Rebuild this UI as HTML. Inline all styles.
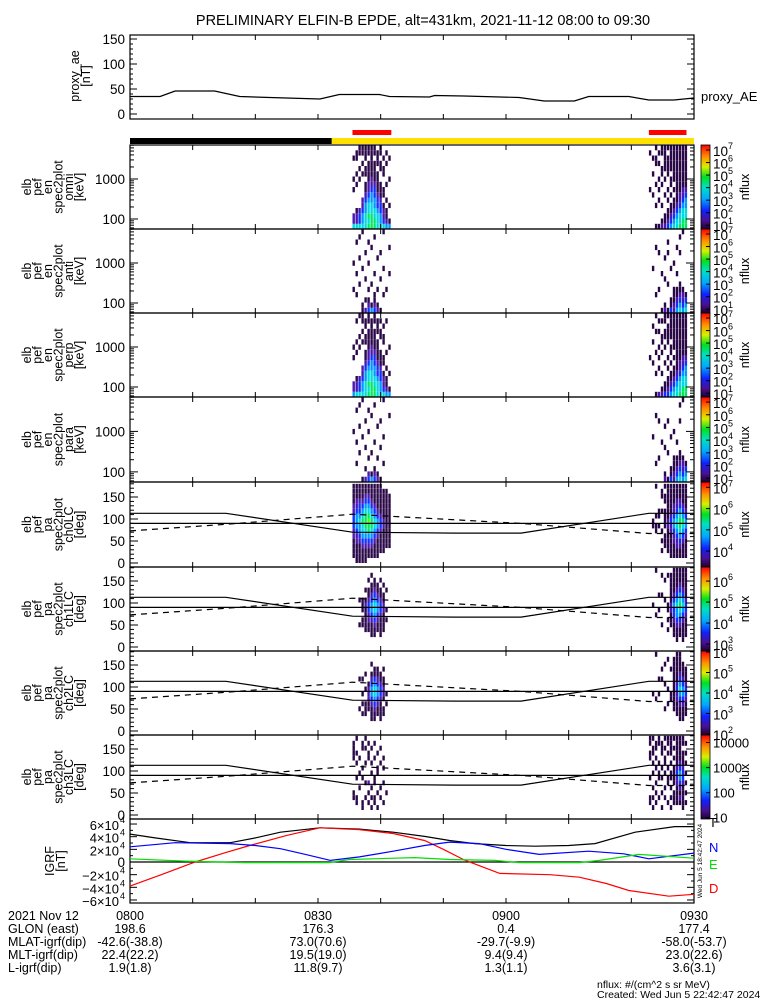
<!DOCTYPE html>
<html><head><meta charset="utf-8"><title>ELFIN-B EPDE</title>
<style>
html,body{margin:0;padding:0;background:#fff;}
svg{display:block;font-family:"Liberation Sans",sans-serif;}
</style></head>
<body>
<svg id="chart" width="775" height="1000" viewBox="0 0 775 1000" xmlns="http://www.w3.org/2000/svg">
<defs>
<linearGradient id="rainbow" x1="0" y1="1" x2="0" y2="0">
<stop offset="0" stop-color="#1a0030"/><stop offset="0.1" stop-color="#4a1090"/>
<stop offset="0.22" stop-color="#1020ff"/><stop offset="0.36" stop-color="#00a8ff"/>
<stop offset="0.5" stop-color="#00e0c0"/><stop offset="0.62" stop-color="#00e020"/>
<stop offset="0.74" stop-color="#d8f000"/><stop offset="0.86" stop-color="#ff9000"/>
<stop offset="1" stop-color="#ff0000"/></linearGradient>
</defs>
<text x="423" y="25" font-size="14.5" text-anchor="middle">PRELIMINARY ELFIN-B EPDE, alt=431km, 2021-11-12 08:00 to 09:30</text>
</svg>
<script>
// ---------- data ----------
const aeTimes = [0,4.8,7.2,13.5,17.5,22.3,30.3,33.4,39.8,41.4,47.8,48.6,53.3,62.1,66.1,70.9,73.2,79.6,82.8,86.8,90];
const aeValues = [35,35,46,46,35,33,30,39,39,35,34,37,36,33,26,26,35,35,28,28,32];
const lcTimes = [0,15.3,35.5,51.8,62.4,82.8,90];
const lcSolid = [113,113,70,68,68,113,113];
const lcDashTimes = [0,15.3,35.5,62.4,82.8,90];
const lcDashed = [73,88,111,90,67,67];
const igrfTimes = [0,4,9.6,16,20,24,30.3,36.6,42,47,51,55,60,64.6,70,74.2,80.6,86.9,90];
const igrfT = [4.4,3.8,3.05,3.05,3.8,4.7,5.4,5.2,4.7,4.05,3.4,2.9,2.6,2.5,2.6,2.9,4.7,5.6,5.6];
const igrfTimesD = [0,5,10.4,15,19.1,25,30.3,36.6,42,47,50,53.4,59,67,71.7,76,79.6,86,90];
const igrfD = [-3.8,-2.0,0,1.4,2.6,4.2,5.4,5.1,4.5,3.4,2.0,0.3,-1.8,-2.0,-2.4,-3.4,-4.5,-5.4,-5.1];
const igrfTimesN = [0,7.2,16,20,24,28,32,36.6,42,47,51,55.7,60,65.3,73.2,78.8,82.8,90];
const igrfN = [2.4,3.05,2.9,2.6,2.1,1.2,0.26,0.8,1.7,2.6,3.15,2.9,2.0,1.2,1.7,1.3,0.5,1.4];
const igrfTimesE = [0,8.8,18.3,31.8,35,45.4,51,58.2,62.1,71.7,74.9,81.2,90];
const igrfE = [0.5,0.15,-0.1,-0.1,0.4,0.7,0.4,0.26,-0.1,-0.1,0.26,1.2,0.6];
const burstStarts = [35.5,82.8];
const omni1 = ["5220000101000100","5221000010100110","5332000001010011","5443220000101011","5554432110110111","6565543221111011","6665544322111111","6655443321111011","5554332111101110","5443321110011011","5322101100110100","4211010010001010","4100100001000100"];
const omni2 = ["0000000100000010","0000001000100100","1000100010001101","1000010101001010","2100100010110011","2110001001011111","3211010100111101","4321101011011111","5432110101111111","5543211111111111","6554322111111111","6655432211111111","6655443211111111"];
const perp1 = ["4220000101000000","5221000010100010","5332000001010001","5443220000101011","5554432110110110","6565543221111011","6665544322111110","6655443321111011","5554332111101110","5443321110011010","5322101100110100","4211010010000010","4100100001000000"];
const perp2 = ["0000000100000000","0000001000100100","1000100010001001","2000010101001010","2100100010110010","3110001001011011","3211010100111101","4321101011011111","5432110101111111","5543211111111111","6554322111111111","6655432211111111","6655443211111111"];
const anti1 = ["0000100001000000","0001000100000100","0000010000100010","1100000010000001","2010001000010000","3210100001000100","4100010000001000","3211000100000010","2100100000100000","1000001000010000","0001000010000001","0000100000000000","0000000100001000"];
const anti2 = ["0000000000000000","0000000010000000","0001000000001000","0000100000010000","1000000100000000","2100001000100000","1000010000010100","3110000010000000","2211100001000000","4321100100001000","5432110000010010","4322100000000001","5431000000000000"];
const para1 = ["0000000001000000","0001000100000100","0000010000100010","1000000010000001","2010001000010000","3200100001000100","4100010000001000","3210000100000010","2100100000100000","1000001000010000","0001000010000001","0000000000000000","0000000000001000"];
const para2 = ["0000000000000000","0000000010000000","0001000000001000","0000100000010000","0000000100000000","2100001000100000","1000010000010000","3110000010000000","2211100001000000","4321100100000000","5432110000010010","4322100000000001","5431000000000000"];
const ch0a = ["0111122333221111","1111223444322111","1111234454332111","1112345565432111","1112345666543211","0112346676543211","0112345665432111","0111234554321111","0111123443211111","0011112332111111","0011111221111110","0001111111111110","0001111111111100"];
const ch0b = ["0000000000000000","0000000110000000","0000001101000001","0000000101100000","0010101000100110","0001110111101101","0011111221111111","0111112232111111","0111223443221111","0112234554322111","0112345665432111","0111234564321111","0111123443211111"];
const ch1a = ["0000000000000000","0000000000000000","0000100001000000","0000110111000000","0001111121010000","0001122332110100","0011123443211010","0011234554321100","0001123443211000","0011112332110100","0001111221101000","0000010100010000","0000000000000000"];
const ch1b = ["0000000000000000","0000000010000000","0000001000000001","0000000100100000","0000100000100010","0000000001000100","0001010110000010","0000111221111110","0011123343211111","0111234454321111","0011234565432111","0111123454321111","0011112332111111"];
const ch2a = ["0000000000000000","0000000000000000","0000100000100000","0001010100100000","0001110010010000","0000112221000000","0011123443210100","0011234554311000","0001123443211000","0011112332110000","0001101221101000","0000010100000000","0000000000000000"];
const ch2b = ["0000000000000000","0000000100000000","0000001000000001","0000000100100000","0000000000101000","0000100001000100","0000010010000010","0000001100001000","0000111111111110","0001112232111111","0011123454321111","0011123443211100","0001112332111000"];
const ch3a = ["0001100000011110","0011000100101001","0000010010010000","0110000101000110","0001001000100101","0010102000011010","0101010010100100","0011001100010010","0100100011001000","0001010000100100","0010001001010000","0000100000000000","0000000000000000"];
const ch3b = ["0011000100011011","0101010010101101","0010101001010110","0001000110100011","0100100101001110","0001010010110101","0010001101001011","0101010110101111","0011101111010101","0011112232111111","0012123443211111","0111112332111011","0010101010101010"];
const cbTicks1 = [1,2,3,4,5,6,7];
const cbTicks5 = [4,5,6,7];
const cbTicks6 = [3,4,5,6];
const cbTicks7 = [2,3,4,5,6];
const cbTicks8 = [1,2,3,4];
const cbLabels8 = ["10","100","1000","10000"];
const tickTimes = [0,30,60,90];
const tickLabels = ["0800","0830","0900","0930"];
const ephemRows = ["2021 Nov 12","GLON (east)","MLAT-igrf(dip)","MLT-igrf(dip)","L-igrf(dip)"];
const glon = ["198.6","176.3","0.4","177.4"];
const mlat = ["-42.6(-38.8)","73.0(70.6)","-29.7(-9.9)","-58.0(-53.7)"];
const mlt = ["22.4(22.2)","19.5(19.0)","9.4(9.4)","23.0(22.6)"];
const lval = ["1.9(1.8)","11.8(9.7)","1.3(1.1)","3.6(3.1)"];
const sciTimes = [[35.5,41.7],[82.8,88.8]];

// ---------- helpers ----------
const NS = "http://www.w3.org/2000/svg";
const svg = document.getElementById("chart");
const X0 = 130, X1 = 694;
const xs = t => X0 + (X1 - X0) * t / 90;
function mk(tag, attrs, parent) {
  const e = document.createElementNS(NS, tag);
  for (const k in attrs) e.setAttribute(k, attrs[k]);
  (parent || svg).appendChild(e);
  return e;
}
function txt(s, x, y, size, anchor, parent, color) {
  const e = mk("text", {x: x, y: y, "font-size": size, "text-anchor": anchor || "start", fill: color || "#000"}, parent);
  e.textContent = s;
  return e;
}
const levelColors = ["none","#2a0848","#4a18b0","#1030ff","#0098ff","#00d8e0","#00e860","#40ff00","#d0ff00"];

function panelFrame(name, top, bot) {
  const g = mk("g", {});
  
  
  return g;
}
function xTicks(g, top, bot) {
  for (let m = 0; m <= 90; m += 10) {
    const x = xs(m);
    mk("line", {x1: x, x2: x, y1: bot, y2: bot - 5, stroke: "#000"}, g);
    mk("line", {x1: x, x2: x, y1: top, y2: top + 5, stroke: "#000"}, g);
  }
}
function box(g, top, bot) {
  mk("rect", {x: X0, y: top, width: X1 - X0, height: bot - top, fill: "none", stroke: "#000", "stroke-width": 1.2}, g);
}
function yLabel(g, lines, cx, cy, step) {
  lines.forEach((l, i) => {
    const x = cx + i * step;
    const t = txt(l, x, cy, 12.5, "middle", g);
    t.setAttribute("transform", "rotate(-90," + x + "," + cy + ")");
  });
}
function poly(g, times, vals, ys, attrs) {
  const pts = times.map((t, i) => xs(t).toFixed(1) + "," + ys(vals[i]).toFixed(1)).join(" ");
  return mk("polyline", Object.assign({points: pts, fill: "none", stroke: "#000", "stroke-width": 1.2}, attrs), g);
}
function cells(g, cols, t0, binLo, binHi, ys, nb) {
  const dt = 6.2 / cols.length;
  cols.forEach((col, i) => {
    for (let j = 0; j < nb; j++) {
      const lv = +col[j];
      if (!lv) continue;
      const v0 = binLo + (binHi - binLo) * j / nb, v1 = binLo + (binHi - binLo) * (j + 1) / nb;
      const x = xs(t0 + i * dt);
      const w = xs(t0 + (i + 1) * dt) - x;
      const r = mk("rect", {x: x.toFixed(1), y: ys(v1).toFixed(1), width: (w * 0.8).toFixed(1), height: (ys(v0) - ys(v1)).toFixed(1), fill: levelColors[lv]}, g);
      
      
    }
  });
}
function colorbar(g, top, bot, lo, hi, ticks, labels) {
  const r = mk("rect", {x: 701, y: top, width: 9, height: bot - top, fill: "url(#rainbow)", stroke: "#000", "stroke-width": 0.8}, g);
  
  
  const cy = v => bot - (bot - top) * (v - lo) / (hi - lo);
  ticks.forEach((v, i) => {
    const y = cy(v);
    mk("line", {x1: 706, x2: 710, y1: y, y2: y, stroke: "#000"}, g);
    if (labels) { txt(labels[i], 713, y + 5, 13, "start", g); }
    else {
      txt("10", 713, y + 6, 13.5, "start", g);
      txt(String(v), 728, y - 1, 9, "start", g);
    }
  });
  const mid = (top + bot) / 2;
  const n = txt("nflux", 749, mid, 12.5, "middle", g);
  n.setAttribute("transform", "rotate(-90,749," + mid + ")");
}

// ---------- proxy AE panel ----------
{
  const top = 35, bot = 119;
  const g = panelFrame("proxy-ae-panel", top, bot);
  const ys = v => 114 - v * 0.5;
  box(g, top, bot); xTicks(g, top, bot);
  [0,50,100,150].forEach(v => {
    mk("line", {x1: X0, x2: X0 + 7, y1: ys(v), y2: ys(v), stroke: "#000"}, g);
    mk("line", {x1: X1, x2: X1 - 7, y1: ys(v), y2: ys(v), stroke: "#000"}, g);
    txt(String(v), 125, ys(v) + 5, 13.5, "end", g);
  });
  for (let v = 10; v < 160; v += 10) if (v % 50) {
    mk("line", {x1: X0, x2: X0 + 3, y1: ys(v), y2: ys(v), stroke: "#000"}, g);
    mk("line", {x1: X1, x2: X1 - 3, y1: ys(v), y2: ys(v), stroke: "#000"}, g);
  }
  yLabel(g, ["proxy_ae", "[nT]"], 79, 76, 11);
  const l = poly(g, aeTimes, aeValues, ys, {});
  
  
  const lg = txt("proxy_AE", 701, 101, 13, "start", g);
  
  
}

// ---------- status bars ----------
{
  const g = panelFrame("status-bars", 131, 144);
  const b = mk("rect", {x: X0, y: 138, width: xs(32.2) - X0, height: 6, fill: "#000"}, g);
  
  
  const y = mk("rect", {x: xs(32.2), y: 138, width: X1 - xs(32.2), height: 6, fill: "#ffe000"}, g);
  
  
  sciTimes.forEach(s => {
    const r = mk("rect", {x: xs(s[0]), y: 130, width: xs(s[1]) - xs(s[0]), height: 5, fill: "#f00"}, g);
    
    
  });
}

// ---------- energy spectrogram panels ----------
const specPanels = [
  {name: "omni", top: 145, bot: 229, a: omni1, b: omni2},
  {name: "anti", top: 229, bot: 313, a: anti1, b: anti2},
  {name: "perp", top: 313, bot: 397, a: perp1, b: perp2},
  {name: "para", top: 397, bot: 482, a: para1, b: para2}
];
specPanels.forEach(p => {
  const g = panelFrame("energy-spectrogram-" + p.name, p.top, p.bot);
  const hi = 3.85, lo = 1.75;
  const ys = lv => p.bot - (p.bot - p.top) * (lv - lo) / (hi - lo);
  cells(g, p.a, burstStarts[0], lo, hi, ys, 16);
  cells(g, p.b, burstStarts[1], lo, hi, ys, 16);
  box(g, p.top, p.bot); xTicks(g, p.top, p.bot);
  for (let d = 1; d <= 3; d++) for (let k = 1; k <= 9; k++) {
    const v = Math.log10(k * Math.pow(10, d));
    if (v < lo || v > hi) continue;
    const L = k === 1 ? 8 : 4;
    mk("line", {x1: X0, x2: X0 + L, y1: ys(v), y2: ys(v), stroke: "#000"}, g);
    mk("line", {x1: X1, x2: X1 - L, y1: ys(v), y2: ys(v), stroke: "#000"}, g);
  }
  txt("1000", 125, ys(3) + 5, 13.5, "end", g);
  txt("100", 125, ys(2) + 5, 13.5, "end", g);
  yLabel(g, ["elb","pef","en","spec2plot",p.name,"[keV]"], 31, (p.top + p.bot) / 2, 10.5);
  colorbar(g, p.top, p.bot, 0.7, 7.4, cbTicks1);
});

// ---------- pitch-angle panels ----------
const paPanels = [
  {name: "ch0LC", top: 482, bot: 567, a: ch0a, b: ch0b, lo: 3.25, hi: 7.25, ticks: cbTicks5},
  {name: "ch1LC", top: 567, bot: 651, a: ch1a, b: ch1b, lo: 2.67, hi: 6.67, ticks: cbTicks6},
  {name: "ch2LC", top: 651, bot: 735, a: ch2a, b: ch2b, lo: 1.95, hi: 6.05, ticks: cbTicks7},
  {name: "ch3LC", top: 735, bot: 819, a: ch3a, b: ch3b, lo: 0.95, hi: 4.3, ticks: cbTicks8, labels: cbLabels8}
];
paPanels.forEach(p => {
  const g = panelFrame("pitch-angle-spectrogram-" + p.name, p.top, p.bot);
  const base = p.bot - 4;
  const y2 = v => base - v * 0.44;
  cells(g, p.a, burstStarts[0], 0, 180, y2, 16);
  cells(g, p.b, burstStarts[1], 0, 180, y2, 16);
  box(g, p.top, p.bot); xTicks(g, p.top, p.bot);
  for (let v = 0; v <= 180; v += 10) {
    const L = v % 50 === 0 ? 8 : 4;
    mk("line", {x1: X0, x2: X0 + L, y1: y2(v), y2: y2(v), stroke: "#000"}, g);
    mk("line", {x1: X1, x2: X1 - L, y1: y2(v), y2: y2(v), stroke: "#000"}, g);
  }
  [0,50,100,150].forEach(v => txt(String(v), 125, y2(v) + 5, 13.5, "end", g));
  const h = mk("line", {x1: X0, x2: X1, y1: y2(90), y2: y2(90), stroke: "#000", "stroke-width": 1.2}, g);
  
  
  const s = poly(g, lcTimes, lcSolid, y2, {});
  
  
  const d = poly(g, lcDashTimes, lcDashed, y2, {"stroke-dasharray": "6,5"});
  
  
  yLabel(g, ["elb","pef","pa","spec2plot",p.name,"[deg]"], 31, (p.top + p.bot) / 2, 10.5);
  colorbar(g, p.top, p.bot, p.lo, p.hi, p.ticks, p.labels);
});

// ---------- IGRF panel ----------
{
  const top = 819, bot = 903;
  const g = panelFrame("igrf-panel", top, bot);
  const ys = v => 862 - v * 6.33;
  box(g, top, bot); xTicks(g, top, bot);
  mk("line", {x1: X0, x2: X1, y1: ys(0), y2: ys(0), stroke: "#000", "stroke-width": 1.2}, g);
  [-6,-4,-2,0,2,4,6].forEach(v => {
    mk("line", {x1: X0, x2: X0 + 7, y1: ys(v), y2: ys(v), stroke: "#000"}, g);
    mk("line", {x1: X1, x2: X1 - 7, y1: ys(v), y2: ys(v), stroke: "#000"}, g);
    if (v === 0) txt("0", 125, ys(v) + 5, 13.5, "end", g);
    else {
      txt((v < 0 ? "\u2212" : "") + Math.abs(v) + "\u00d710", 119, ys(v) + 6, 13, "end", g);
      txt("4", 120, ys(v) - 1, 9, "start", g);
    }
  });
  for (let v = -5; v <= 5; v += 2) {
    mk("line", {x1: X0, x2: X0 + 3, y1: ys(v), y2: ys(v), stroke: "#000"}, g);
    mk("line", {x1: X1, x2: X1 - 3, y1: ys(v), y2: ys(v), stroke: "#000"}, g);
  }
  yLabel(g, ["IGRF", "[nT]"], 54, 861, 11);
  const series = [[igrfTimes, igrfT, "#000", "igrf-total-line"], [igrfTimesD, igrfD, "#f00", "igrf-d-line"], [igrfTimesN, igrfN, "#00f", "igrf-n-line"], [igrfTimesE, igrfE, "#00e000", "igrf-e-line"]];
  series.forEach(s => {
    const l = poly(g, s[0], s[1], ys, {stroke: s[2]});
    
    
  });
  const leg = [["T", 827, "#000"], ["N", 852, "#00f"], ["E", 869, "#00e000"], ["D", 893, "#f00"]];
  leg.forEach(L => {
    const t = txt(L[0], 709, L[1], 13, "start", g, L[2]);
    
    
  });
  const w = txt("Wed Jun  5 18:42:47 2024", 702, 861, 6.5, "middle", g);
  w.setAttribute("transform", "rotate(-90,702,861)");
}

// ---------- ephemeris text ----------
{
  const g = panelFrame("ephemeris-table", 905, 975);
  const rowY = [920, 933, 946, 959, 972];
  ephemRows.forEach((r, i) => txt(r, 8, rowY[i], 12.5, "start", g));
  const cols = [null, glon, mlat, mlt, lval];
  tickTimes.forEach((t, k) => {
    txt(tickLabels[k], xs(t), rowY[0], 12.5, "middle", g);
    for (let i = 1; i < 5; i++) txt(cols[i][k], xs(t), rowY[i], 12.5, "middle", g);
  });
}
{
  const g = panelFrame("footer", 975, 1000);
  txt("nflux: #/(cm^2 s sr MeV)", 597, 988, 10.5, "start", g);
  txt("Created: Wed Jun  5 22:42:47 2024", 597, 998, 10.5, "start", g);
}
</script>
</body></html>
